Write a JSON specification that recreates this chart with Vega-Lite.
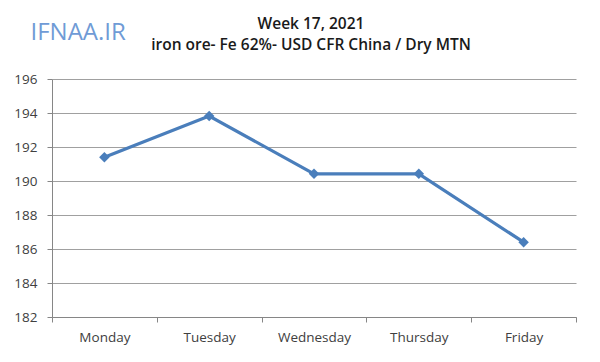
{
  "$schema": "https://vega.github.io/schema/vega-lite/v6.json",
  "autosize": "none",
  "width": 524,
  "height": 238,
  "padding": {"left": 52, "top": 79, "right": 24, "bottom": 45},
  "background": "white",
  "title": {
    "text": "Week 17, 2021",
    "subtitle": "iron ore- Fe 62%- USD CFR China / Dry MTN",
    "anchor": "middle",
    "dx": -3,
    "offset": -33,
    "font": "Open Sans",
    "fontSize": 15.5,
    "fontWeight": 600,
    "color": "#1a1a1a",
    "subtitleFont": "Open Sans",
    "subtitleFontSize": 15.5,
    "subtitleFontWeight": 600,
    "subtitleColor": "#1a1a1a",
    "subtitlePadding": 5
  },
  "data": {
    "values": [
      {"day": "Monday", "price": 191.4},
      {"day": "Tuesday", "price": 193.82},
      {"day": "Wednesday", "price": 190.42},
      {"day": "Thursday", "price": 190.42},
      {"day": "Friday", "price": 186.4}
    ]
  },
  "encoding": {
    "x": {
      "field": "day",
      "type": "nominal",
      "sort": null,
      "scale": {"paddingInner": 0, "paddingOuter": 0},
      "axis": {
        "title": null,
        "labelAngle": 0,
        "labelFont": "Open Sans",
        "labelFontSize": 13.5,
        "labelColor": "#404040",
        "labelPadding": 8,
        "tickBand": "extent",
        "tickSize": 5,
        "tickColor": "#868686",
        "domainColor": "#868686",
        "grid": false
      }
    },
    "y": {
      "field": "price",
      "type": "quantitative",
      "scale": {"domain": [182, 196], "nice": false, "zero": false},
      "axis": {
        "values": [182, 184, 186, 188, 190, 192, 194, 196],
        "title": "IFNAA.IR",
        "titleAngle": 0,
        "titleX": -22,
        "titleY": -40,
        "titleAlign": "left",
        "titleBaseline": "alphabetic",
        "titleFont": "Open Sans",
        "titleFontSize": 24,
        "titleFontWeight": "normal",
        "titleColor": "#6f9bd6",
        "labelFont": "Open Sans",
        "labelFontSize": 13.5,
        "labelColor": "#404040",
        "labelPadding": 10,
        "tickSize": 5,
        "tickColor": "#868686",
        "domainColor": "#868686",
        "grid": true,
        "gridColor": "#a0a0a0",
        "gridWidth": 1.2
      }
    }
  },
  "layer": [
    {"mark": {"type": "line", "color": "#4a7ebb", "strokeWidth": 3.2}},
    {"mark": {"type": "point", "shape": "diamond", "filled": true, "opacity": 1, "color": "#4a7ebb", "size": 110}}
  ],
  "config": {
    "view": {"stroke": null}
  }
}
